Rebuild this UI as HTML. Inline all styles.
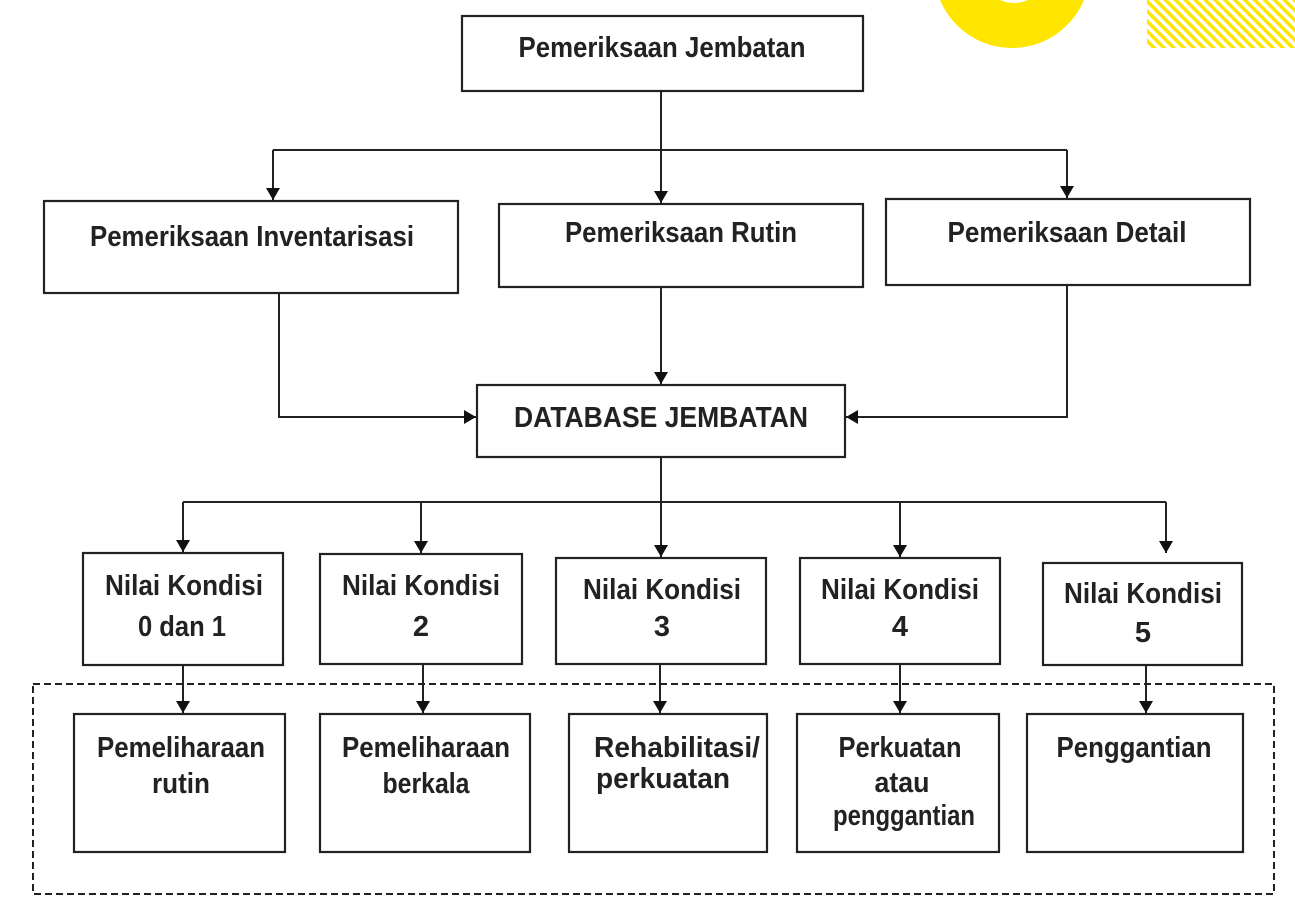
<!DOCTYPE html>
<html><head><meta charset="utf-8"><style>
html,body{margin:0;padding:0;background:#fff;}
svg{display:block;}
text{font-family:"Liberation Sans",sans-serif;font-weight:bold;font-size:29px;fill:#222;}
</style></head><body>
<svg width="1295" height="916" viewBox="0 0 1295 916" xmlns="http://www.w3.org/2000/svg">
<defs>
<pattern id="h" width="7" height="7" patternUnits="userSpaceOnUse" patternTransform="rotate(45)">
<rect x="0" y="0" width="7" height="3.5" fill="#ffe600"/>
</pattern>
<marker id="a" markerWidth="12" markerHeight="14" refX="12" refY="7" orient="auto" markerUnits="userSpaceOnUse">
<path d="M0,0 L12,7 L0,14 z" fill="#111"/>
</marker>
</defs>
<circle cx="1012" cy="-30" r="78" fill="#ffe600"/>
<circle cx="1014" cy="-30" r="33" fill="#fff"/>
<rect x="1147" y="0" width="148" height="48" fill="url(#h)"/>

<g fill="none" stroke="#222" stroke-width="2.2">
<rect x="462" y="16" width="401" height="75"/>
<rect x="44" y="201" width="414" height="92"/>
<rect x="499" y="204" width="364" height="83"/>
<rect x="886" y="199" width="364" height="86"/>
<rect x="477" y="385" width="368" height="72"/>
<rect x="83" y="553" width="200" height="112"/>
<rect x="320" y="554" width="202" height="110"/>
<rect x="556" y="558" width="210" height="106"/>
<rect x="800" y="558" width="200" height="106"/>
<rect x="1043" y="563" width="199" height="102"/>
<rect x="74" y="714" width="211" height="138"/>
<rect x="320" y="714" width="210" height="138"/>
<rect x="569" y="714" width="198" height="138"/>
<rect x="797" y="714" width="202" height="138"/>
<rect x="1027" y="714" width="216" height="138"/>
<rect x="33" y="684" width="1241" height="210" stroke-dasharray="7 4" stroke-width="2"/>
</g>
<g fill="none" stroke="#222" stroke-width="2">
<line x1="661" y1="91" x2="661" y2="150"/>
<line x1="273" y1="150" x2="1067" y2="150"/>
<line x1="273" y1="150" x2="273" y2="200" marker-end="url(#a)"/>
<line x1="661" y1="150" x2="661" y2="203" marker-end="url(#a)"/>
<line x1="1067" y1="150" x2="1067" y2="198" marker-end="url(#a)"/>
<polyline points="279,293 279,417 476,417" marker-end="url(#a)"/>
<polyline points="1067,285 1067,417 846,417" marker-end="url(#a)"/>
<line x1="661" y1="287" x2="661" y2="384" marker-end="url(#a)"/>
<line x1="661" y1="457" x2="661" y2="557" marker-end="url(#a)"/>
<line x1="183" y1="502" x2="1166" y2="502"/>
<line x1="183" y1="502" x2="183" y2="552" marker-end="url(#a)"/>
<line x1="421" y1="502" x2="421" y2="553" marker-end="url(#a)"/>
<line x1="900" y1="502" x2="900" y2="557" marker-end="url(#a)"/>
<line x1="1166" y1="502" x2="1166" y2="553" marker-end="url(#a)"/>
<line x1="183" y1="665" x2="183" y2="713" marker-end="url(#a)"/>
<line x1="423" y1="664" x2="423" y2="713" marker-end="url(#a)"/>
<line x1="660" y1="664" x2="660" y2="713" marker-end="url(#a)"/>
<line x1="900" y1="664" x2="900" y2="713" marker-end="url(#a)"/>
<line x1="1146" y1="665" x2="1146" y2="713" marker-end="url(#a)"/>
</g>
<g text-anchor="middle">
<text x="662" y="57" textLength="287" lengthAdjust="spacingAndGlyphs">Pemeriksaan Jembatan</text>
<text x="252" y="246" textLength="324" lengthAdjust="spacingAndGlyphs">Pemeriksaan Inventarisasi</text>
<text x="681" y="242" textLength="232" lengthAdjust="spacingAndGlyphs">Pemeriksaan Rutin</text>
<text x="1067" y="242" textLength="239" lengthAdjust="spacingAndGlyphs">Pemeriksaan Detail</text>
<text x="661" y="427" textLength="294" lengthAdjust="spacingAndGlyphs">DATABASE JEMBATAN</text>

<text x="184" y="595" textLength="158" lengthAdjust="spacingAndGlyphs">Nilai Kondisi</text>
<text x="182" y="636" textLength="88" lengthAdjust="spacingAndGlyphs">0 dan 1</text>
<text x="421" y="595" textLength="158" lengthAdjust="spacingAndGlyphs">Nilai Kondisi</text>
<text x="421" y="636">2</text>
<text x="662" y="599" textLength="158" lengthAdjust="spacingAndGlyphs">Nilai Kondisi</text>
<text x="662" y="636">3</text>
<text x="900" y="599" textLength="158" lengthAdjust="spacingAndGlyphs">Nilai Kondisi</text>
<text x="900" y="636">4</text>
<text x="1143" y="603" textLength="158" lengthAdjust="spacingAndGlyphs">Nilai Kondisi</text>
<text x="1143" y="642">5</text>

<text x="181" y="757" textLength="168" lengthAdjust="spacingAndGlyphs">Pemeliharaan</text>
<text x="181" y="793" textLength="58" lengthAdjust="spacingAndGlyphs">rutin</text>
<text x="426" y="757" textLength="168" lengthAdjust="spacingAndGlyphs">Pemeliharaan</text>
<text x="426" y="793" textLength="87" lengthAdjust="spacingAndGlyphs">berkala</text>
<text x="677" y="757" textLength="166" lengthAdjust="spacingAndGlyphs">Rehabilitasi/</text>
<text x="663" y="788" textLength="134" lengthAdjust="spacingAndGlyphs">perkuatan</text>
<text x="900" y="757" textLength="123" lengthAdjust="spacingAndGlyphs">Perkuatan</text>
<text x="902" y="792" textLength="55" lengthAdjust="spacingAndGlyphs">atau</text>
<text x="904" y="825" textLength="142" lengthAdjust="spacingAndGlyphs">penggantian</text>
<text x="1134" y="757" textLength="155" lengthAdjust="spacingAndGlyphs">Penggantian</text>
</g>
</svg>
</body></html>
